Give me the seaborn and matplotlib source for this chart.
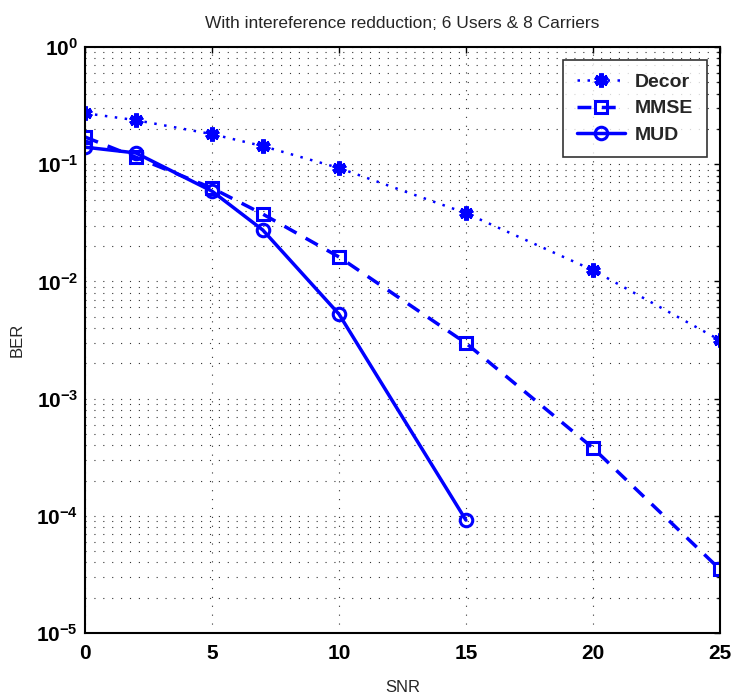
import numpy as np
import pandas as pd
import matplotlib
matplotlib.use("Agg")
import matplotlib.pyplot as plt
from matplotlib.ticker import LogLocator, NullFormatter, FixedLocator
import seaborn as sns

snr_decor = [0, 2, 5, 7, 10, 15, 20, 25]
ber_decor = [0.273, 0.238, 0.181, 0.143, 0.093, 0.0383, 0.0125, 0.00316]
snr_mmse = [0, 2, 5, 7, 10, 15, 20, 25]
ber_mmse = [0.171, 0.115, 0.0627, 0.0376, 0.0162, 0.00298, 3.8e-4, 3.5e-5]
snr_mud = [0, 2, 5, 7, 10, 15]
ber_mud = [0.140, 0.125, 0.059, 0.0275, 0.00527, 9.2e-5]
x_ticks = [0, 5, 10, 15, 20, 25]

sns.set_theme(style="white")
plt.rcParams['font.family'] = ['Liberation Sans', 'DejaVu Sans']

fig = plt.figure(figsize=(7.33, 6.95), dpi=100)
ax = fig.add_axes([0.116, 0.0892, 0.866, 0.843])

blue = "#0000ff"
sns.lineplot(x=snr_decor, y=ber_decor, ax=ax, color=blue, linestyle=(0, (1, 3)),
             linewidth=1.8, marker=(6, 2, 0), markersize=10, markeredgewidth=3.5,
             markeredgecolor=blue, label="Decor")
sns.lineplot(x=snr_mmse, y=ber_mmse, ax=ax, color=blue, linestyle=(0, (4, 3)),
             linewidth=2.5, marker="s", markersize=8, markerfacecolor="none",
             markeredgewidth=2.2, markeredgecolor=blue, label="MMSE")
sns.lineplot(x=snr_mud, y=ber_mud, ax=ax, color=blue, linestyle="-",
             linewidth=2.5, marker="o", markersize=9, markerfacecolor="none",
             markeredgewidth=2.2, markeredgecolor=blue, label="MUD")

ax.set_yscale("log")
ax.set_xlim(0, 25)
ax.set_ylim(1e-5, 1)
ax.xaxis.set_major_locator(FixedLocator(x_ticks))
ax.yaxis.set_major_locator(LogLocator(base=10, numticks=10))
ax.yaxis.set_minor_locator(LogLocator(base=10, subs=np.arange(2, 10), numticks=10))
ax.yaxis.set_minor_formatter(NullFormatter())

grid_ls = (0, (1, 7))
ax.grid(True, which="major", axis="both", linestyle=grid_ls, color="#333333", linewidth=0.8)
ax.grid(True, which="minor", axis="y", linestyle=grid_ls, color="#333333", linewidth=0.8)

for s in ax.spines.values():
    s.set_color("black")
    s.set_linewidth(1.5)

ax.tick_params(axis="both", which="both", direction="in", top=True, right=True,
               labelsize=15, colors="black", length=4, width=1)
ax.tick_params(axis="y", which="minor", length=2)
ax.tick_params(axis="x", pad=8)
ax.tick_params(axis="y", pad=5)
for lbl in ax.get_xticklabels() + ax.get_yticklabels():
    lbl.set_fontweight("bold")

ax.set_xlabel("SNR", fontsize=12, labelpad=12)
ax.set_ylabel("BER", fontsize=12, labelpad=8)
ax.set_title("With intereference redduction; 6 Users & 8 Carriers", fontsize=12.5, pad=14)

leg = ax.legend(loc="upper right", prop={"weight": "bold", "size": 14},
                frameon=True, fancybox=False, edgecolor="black", handlelength=2.5,
                handletextpad=0.5, borderpad=0.7,
                borderaxespad=0.65, labelspacing=0.45)
leg.get_frame().set_linewidth(1.2)

fig.savefig("out.png", dpi=100, facecolor="white")
